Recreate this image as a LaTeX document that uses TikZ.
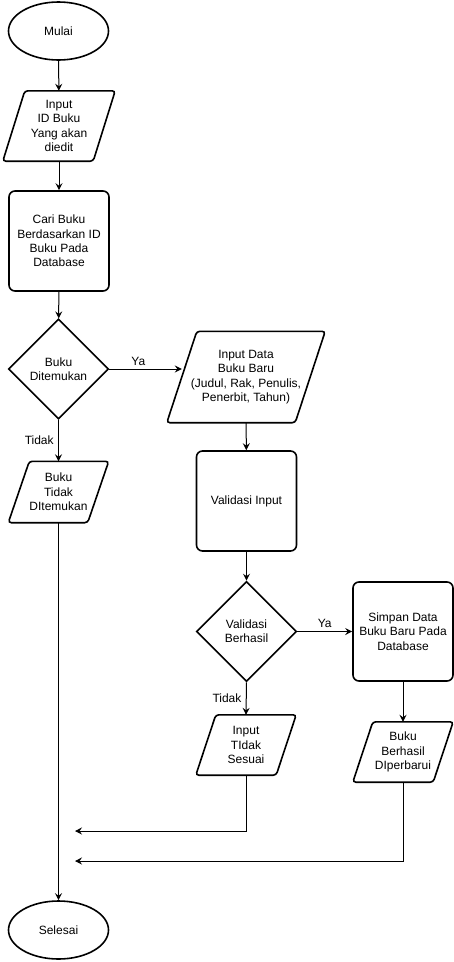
\documentclass[tikz,border=0pt]{standalone}
\usepackage{fontspec}
\setmainfont{Liberation Sans}
\usetikzlibrary{arrows.meta,shapes.geometric,calc}
\tikzset{
  shp/.style={draw, line width=1.6pt},
  term/.style={shp, ellipse, minimum width=100pt, minimum height=58pt, inner sep=0pt},
  proc/.style={shp, rectangle, rounded corners=6pt, minimum width=100pt, minimum height=100pt, align=center, inner sep=0pt},
  dec/.style={shp, diamond, minimum width=100pt, minimum height=100pt, aspect=1, align=center, inner sep=0pt},
  arr/.style={line width=1pt, -{Stealth[length=7pt,width=7pt,inset=2.5pt]}},
  lbl/.style={font=\fontsize{12}{14.4}\selectfont},
}
\newcommand\paranode[6]{%
  \node[minimum width=#3pt, minimum height=#4pt, inner sep=0pt, align=center] (#1) at (#2) {#6};
  \draw[shp, rounded corners=3pt] ($(#1.north west)+(#5,0)$) -- (#1.north east) -- ($(#1.south east)+(-#5,0)$) -- (#1.south west) -- cycle;
  \coordinate (#1-w) at ($(#1.west)+(#5/2,0)$);
}
\begin{document}
\begin{tikzpicture}[x=1pt,y=-1pt, font=\fontsize{12}{14.4}\selectfont]
\useasboundingbox (0,0) rectangle (454,962);

\node[term] (mulai) at (58.5,31) {Mulai};
\paranode{in1}{59,126}{112}{70}{22}{Input\\ID Buku\\Yang akan\\diedit}
\node[proc] (cari) at (59,241) {Cari Buku\\Berdasarkan ID\\Buku Pada\\Database};
\node[dec] (d1) at (58.5,369) {Buku\\Ditemukan};
\paranode{in2}{246,377}{158}{91}{30}{Input Data\\Buku Baru\\(Judul, Rak, Penulis,\\Penerbit, Tahun)}
\paranode{tdk}{58.5,492}{100}{61}{21}{Buku\\Tidak\\DItemukan}
\node[proc] (val) at (246.5,501) {Validasi Input};
\node[dec] (d2) at (246.5,631.5) {Validasi\\Berhasil};
\node[proc, minimum height=99pt] (simpan) at (403,631.5) {Simpan Data\\Buku Baru Pada\\Database};
\paranode{salah}{246,745}{100}{60}{20}{Input\\TIdak\\Sesuai}
\paranode{ok}{403,752}{100}{60}{20}{Buku\\Berhasil\\DIperbarui}
\node[term] (selesai) at (58.5,930) {Selesai};

\coordinate (e1) at (75,831);
\coordinate (e2) at (75,861);

\draw[arr] (mulai) -- (in1);
\draw[arr] (in1) -- (cari);
\draw[arr] (cari) -- (d1);
\draw[arr] (d1.east) -- node[pos=0.4, above, lbl] {Ya} (d1.east -| in2-w);
\draw[arr] (d1.south) -- node[left=1pt, lbl] {Tidak} (tdk.north);
\draw[arr] (in2) -- (val);
\draw[arr] (val) -- (d2);
\draw[arr] (d2.east) -- node[above, lbl] {Ya} (simpan.west);
\draw[arr] (d2.south) -- node[left=1pt, lbl] {Tidak} (salah.north);
\draw[arr] (simpan) -- (ok);
\draw[arr] (tdk.south) -- (selesai.north);
\draw[arr] (salah.south) |- (e1);
\draw[arr] (ok.south) |- (e2);
\end{tikzpicture}
\end{document}
